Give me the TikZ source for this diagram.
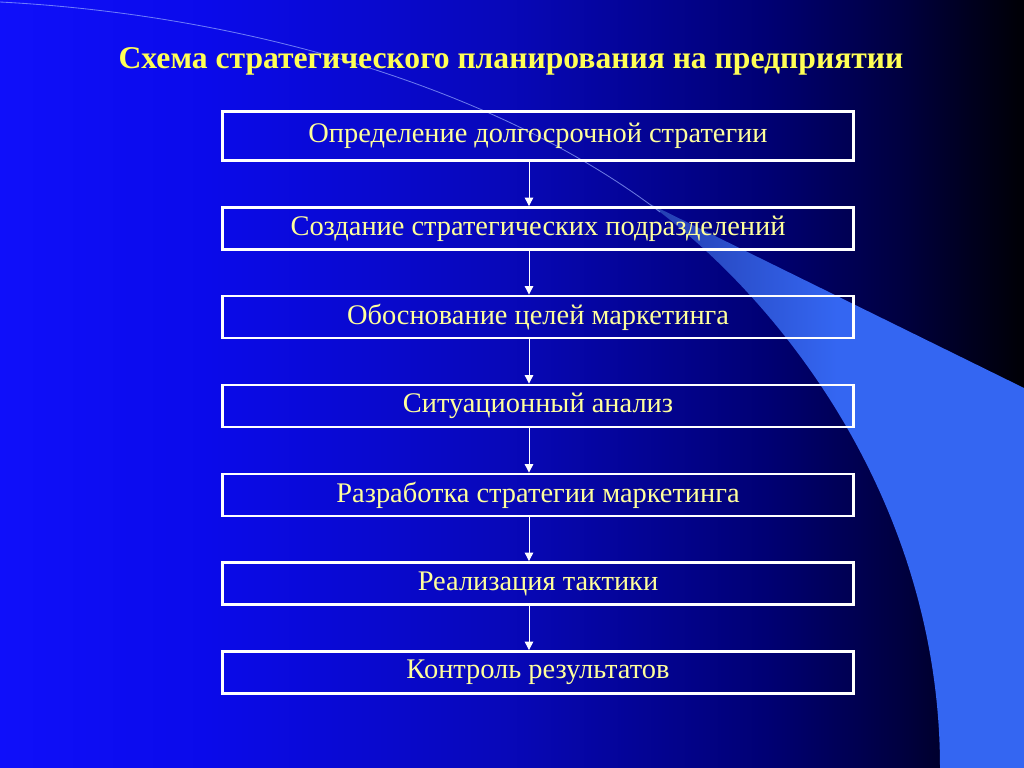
\documentclass[tikz,border=0pt]{standalone}
\usepackage{fontspec}
\setmainfont{Liberation Serif}
\usetikzlibrary{arrows.meta}
\tikzstyle{slide} = [x = 0.025cm, y = -0.025cm]
\definecolor{titleYellow}{RGB}{255,255,85}
\definecolor{textYellow}{RGB}{255,255,155}
\definecolor{bandBlue}{RGB}{52,102,242}
\definecolor{bandDim}{RGB}{36,62,175}
\definecolor{arcColor}{RGB}{150,170,255}
\pgfdeclarehorizontalshading{backShade}{100bp}{rgb(0bp)=(0.06,0.06,0.98); rgb(25bp)=(0.06,0.06,0.98); rgb(35bp)=(0.04,0.04,0.92); rgb(50bp)=(0.03,0.03,0.72); rgb(62.5bp)=(0,0,0.45); rgb(69bp)=(0,0,0.25); rgb(75bp)=(0,0,0.02); rgb(100bp)=(0,0,0.02)}
\tikzstyle{stepBoxStyle} = [draw=white, line width=2pt, minimum width=15.775cm, inner sep=0pt, text=textYellow, font=\fontsize{20.2}{23}\selectfont]
\tikzstyle{stepArrowStyle} = [draw=white, line width=0.7pt, -{Triangle[width=6pt, length=6pt]}]
\tikzstyle{titleText} = [text=titleYellow, font=\fontsize{22.5}{26}\selectfont\bfseries]
\newcommand{\stepBox}[4]{\node [stepBoxStyle, minimum height=#3] (#1) at (538, #2) {#4};}
\newcommand{\stepArrow}[2]{\draw [stepArrowStyle] (#1.south -| arrowAxis) -- (#2.north -| arrowAxis);}

\begin{document}
\begin{tikzpicture}[slide]
  \useasboundingbox (0,0) rectangle (1024,768);
  \shade [shading=backShade] (0,0) rectangle (1024,768);
  % swoosh on the right
  \shade [left color=bandDim, right color=bandBlue, middle color=bandBlue]
    (650,204) -- (1024,388) -- (1024,768) -- (940,768)
    .. controls (940,520) and (800,320) .. (660,212) -- cycle;
  \draw [arcColor, line width=0.6pt, opacity=0.7] (0,2) .. controls (250,15) and (500,90) .. (660,212);

  \node [titleText] (title) at (511,61) {Схема стратегического планирования на предприятии};
  \coordinate (arrowAxis) at (529,0);

  \stepBox{longTerm}{136}{1.225cm}{Определение долгосрочной стратегии}
  \stepBox{units}{228.5}{1.05cm}{Создание стратегических подразделений}
  \stepBox{goals}{317}{1.05cm}{Обоснование целей маркетинга}
  \stepBox{situation}{406}{1.05cm}{Ситуационный анализ}
  \stepBox{strategy}{495}{1.05cm}{Разработка стратегии маркетинга}
  \stepBox{tactics}{583.5}{1.05cm}{Реализация тактики}
  \stepBox{control}{672.5}{1.05cm}{Контроль результатов}

  \stepArrow{longTerm}{units}
  \stepArrow{units}{goals}
  \stepArrow{goals}{situation}
  \stepArrow{situation}{strategy}
  \stepArrow{strategy}{tactics}
  \stepArrow{tactics}{control}
\end{tikzpicture}
\end{document}
